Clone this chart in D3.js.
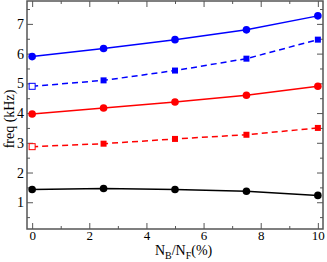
<!DOCTYPE html>
<html>
<head>
<meta charset="utf-8">
<script src="https://cdn.jsdelivr.net/npm/d3@7"></script>
<style>
  body { margin: 0; background: #fff; }
  text { font-family: "Liberation Serif", "DejaVu Serif", serif; }
</style>
</head>
<body>
<div id="chart"></div>
<script>
// data
var xs = [0, 2.5, 5, 7.5, 10];
var blueSolid  = [5.9, 6.17, 6.47, 6.8, 7.27];
var blueDashed = [4.9, 5.1, 5.43, 5.83, 6.47];
var redSolid   = [3.97, 4.17, 4.37, 4.6, 4.9];
var redDashed  = [2.87, 2.97, 3.13, 3.27, 3.5];
var black      = [1.43, 1.46, 1.43, 1.37, 1.23];
var xTicks = [0, 2, 4, 6, 8, 10];
var yTicks = [1, 2, 3, 4, 5, 6, 7];

var series = [
  {vals: blueSolid,  color: "#0000ff", dash: null,  marker: "circle"},
  {vals: blueDashed, color: "#0000ff", dash: "6,4", marker: "square"},
  {vals: redSolid,   color: "#ff0000", dash: null,  marker: "circle"},
  {vals: redDashed,  color: "#ff0000", dash: "6,4", marker: "square"},
  {vals: black,      color: "#000000", dash: null,  marker: "circle"}
];

var margin = {top: 1, right: 4, bottom: 33, left: 27},
    width = 327 - margin.left - margin.right,
    height = 262 - margin.top - margin.bottom;

var svg = d3.select("#chart")
  .append("svg")
    .attr("width", 327)
    .attr("height", 262)
  .append("g")
    .attr("transform", "translate(" + margin.left + "," + margin.top + ")");

var x = d3.scaleLinear().domain([-0.18, 10.18]).range([0, width]);
var y = d3.scaleLinear().domain([0.1, 7.77]).range([height, 0]);

var tickColor = "#555";

// axes with inward ticks on all sides
function styleAxis(g) {
  g.select(".domain").remove();
  g.selectAll("line").attr("stroke", tickColor);
}
svg.append("g")
  .attr("transform", "translate(0," + height + ")")
  .call(d3.axisBottom(x).tickValues(xTicks).tickSize(-6).tickPadding(2).tickFormat(d3.format("d")))
  .call(styleAxis)
  .selectAll("text").style("font-size", "13px").attr("fill", "#000");
svg.append("g")
  .attr("transform", "translate(0," + height + ")")
  .call(d3.axisBottom(x).tickValues([1, 3, 5, 7, 9]).tickSize(-3).tickFormat(""))
  .call(styleAxis);
svg.append("g")
  .call(d3.axisTop(x).tickValues(xTicks).tickSize(-6).tickFormat(""))
  .call(styleAxis);
svg.append("g")
  .call(d3.axisTop(x).tickValues([1, 3, 5, 7, 9]).tickSize(-3).tickFormat(""))
  .call(styleAxis);

svg.append("g")
  .call(d3.axisLeft(y).tickValues(yTicks).tickSize(-6).tickPadding(3).tickFormat(d3.format("d")))
  .call(styleAxis)
  .selectAll("text").style("font-size", "14px").attr("fill", "#000");
svg.append("g")
  .call(d3.axisLeft(y).tickValues([0.5, 1.5, 2.5, 3.5, 4.5, 5.5, 6.5, 7.5]).tickSize(-3).tickFormat(""))
  .call(styleAxis);
svg.append("g")
  .attr("transform", "translate(" + width + ",0)")
  .call(d3.axisRight(y).tickValues(yTicks).tickSize(-6).tickFormat(""))
  .call(styleAxis);
svg.append("g")
  .attr("transform", "translate(" + width + ",0)")
  .call(d3.axisRight(y).tickValues([0.5, 1.5, 2.5, 3.5, 4.5, 5.5, 6.5, 7.5]).tickSize(-3).tickFormat(""))
  .call(styleAxis);

// frame
svg.append("rect")
  .attr("width", width).attr("height", height)
  .attr("fill", "none").attr("stroke", tickColor).attr("stroke-width", 1.5);

// lines
var line = d3.line()
  .x(function(d, i) { return x(xs[i]); })
  .y(function(d) { return y(d); });

series.forEach(function(s) {
  svg.append("path")
    .datum(s.vals)
    .attr("fill", "none")
    .attr("stroke", s.color)
    .attr("stroke-width", 1.5)
    .attr("stroke-dasharray", s.dash)
    .attr("d", line);

  if (s.marker == "circle") {
    svg.selectAll(null)
      .data(s.vals)
      .enter()
      .append("circle")
        .attr("cx", function(d, i) { return x(xs[i]); })
        .attr("cy", function(d) { return y(d); })
        .attr("r", 3.8)
        .attr("fill", s.color);
  } else {
    svg.selectAll(null)
      .data(s.vals)
      .enter()
      .append("rect")
        .attr("x", function(d, i) { return x(xs[i]) - 3; })
        .attr("y", function(d) { return y(d) - 3; })
        .attr("width", 6).attr("height", 6)
        // first point is an open square
        .attr("fill", function(d, i) { return i == 0 ? "#fff" : s.color; })
        .attr("stroke", s.color)
        .attr("stroke-width", function(d, i) { return i == 0 ? 1 : 0; });
  }
});

// axis labels
var xl = svg.append("text")
  .attr("x", x(5.3))
  .attr("y", height + 26)
  .attr("text-anchor", "middle")
  .style("font-size", "14px")
  .attr("fill", "#000");
xl.append("tspan").text("N");
xl.append("tspan").attr("dy", 4).style("font-size", "10px").text("B");
xl.append("tspan").attr("dy", -4).text("/N");
xl.append("tspan").attr("dy", 4).style("font-size", "10px").text("F");
xl.append("tspan").attr("dy", -4).text("(%)");

svg.append("text")
  .attr("transform", "translate(-13," + y(3.8) + ") rotate(-90)")
  .attr("text-anchor", "middle")
  .style("font-size", "14px")
  .attr("fill", "#000")
  .text("freq (kHz)");
</script>
</body>
</html>
